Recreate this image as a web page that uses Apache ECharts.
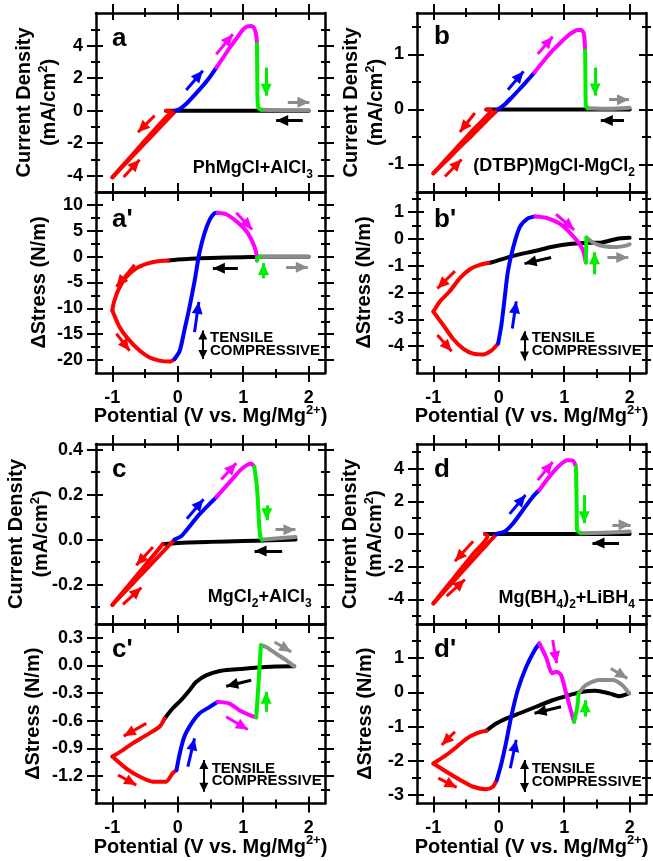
<!DOCTYPE html>
<html><head><meta charset="utf-8">
<script src="https://cdn.jsdelivr.net/npm/echarts@6/dist/echarts.min.js"></script>
<style>html,body{margin:0;padding:0;background:#fff}#c{width:653px;height:861px}</style>
</head><body><div id="c"></div>
<script>
// ---------- shared x axis ----------
const xRange = [-1.25, 2.25];
const xMajor = [-1, 0, 1, 2];
const xMinor = [-0.5, 0.5, 1.5];

// ---------- panel a : current, PhMgCl+AlCl3 ----------
const aYRange = [-5, 6];
const aYMajor = [-4, -2, 0, 2, 4];
const aYMinor = [-3, -1, 1, 3, 5];
const aBlack = [[2.0,0],[1.5,0],[1.0,0],[0.5,0],[0,0],[-0.18,0]];
const aRedDown = [[-0.18,0],[-0.1,-0.02],[-0.3,-0.93],[-0.5,-1.83],[-0.7,-2.74],[-0.9,-3.64],[-1.0,-4.1]];
const aRedUp = [[-1.0,-4.1],[-0.8,-3.25],[-0.6,-2.41],[-0.4,-1.56],[-0.2,-0.72],[-0.03,0]];
const aBlue = [[-0.03,0],[0.05,0.15],[0.15,0.5],[0.3,1.15],[0.45,1.85],[0.59,2.65]];
const aMag = [[0.59,2.65],[0.7,3.3],[0.8,3.9],[0.9,4.45],[0.98,4.9],[1.05,5.15],[1.12,5.2],[1.17,5.05],[1.2,4.6],[1.21,4.1]];
const aGreen = [[1.21,4.1],[1.215,2.0],[1.22,0.6],[1.235,0.15],[1.28,0.05]];
const aGray = [[1.28,0.05],[1.6,0.03],[2.0,0.03]];
const aArrows = {red:[[-0.354,-0.306,-0.609,-1.327],[-0.827,-4.08,-0.583,-3.02]], blue:[[0.13,1.27,0.383,2.45]], mag:[[0.588,3.47,0.841,4.69]], green:[[1.351,2.65,1.351,0.92]], gray:[[1.681,0.51,2.012,0.51]], black:[[1.91,-0.61,1.504,-0.61]]};

// ---------- panel a' : stress ----------
const apYRange = [-22.5, 12.5];
const apYMajor = [-20, -15, -10, -5, 0, 5, 10];
const apYMinor = [-17.5, -12.5, -7.5, -2.5, 2.5, 7.5];
const apBlack = [[2.0,0],[1.5,0],[1.2,-0.05],[1.0,-0.1],[0.5,-0.25],[0.2,-0.4],[0,-0.55],[-0.15,-0.75]];
const apRedDown = [[-0.15,-0.75],[-0.33,-0.93],[-0.48,-1.39],[-0.63,-2.23],[-0.79,-3.99],[-0.91,-6.46],[-0.98,-9.0],[-1.0,-10.4]];
const apRedUp = [[-1.0,-10.4],[-0.89,-13.6],[-0.74,-16.2],[-0.58,-18.2],[-0.43,-19.5],[-0.28,-20.1],[-0.13,-20.3],[-0.05,-19.8]];
const apBlue = [[-0.05,-19.8],[0.03,-18.2],[0.1,-14.3],[0.18,-9.7],[0.26,-4.5],[0.33,0.7],[0.41,4.6],[0.49,7.2],[0.56,8.4],[0.61,8.5]];
const apMag = [[0.61,8.5],[0.74,8.2],[0.89,6.9],[1.05,4.9],[1.15,2.6],[1.2,0.7],[1.21,-0.75]];
const apGreen = [[1.21,-0.75],[1.22,-0.2],[1.26,0]];
const apGray = [[1.26,0],[1.6,0],[2.0,0]];
const apArrows = {red:[[-0.66,-1.58,-0.939,-5.82],[-0.939,-14.9,-0.736,-18.2]], blue:[[0.256,-14.6,0.322,-8.75]], mag:[[0.893,8.5,1.137,5.25]], green:[[1.31,-4.2,1.31,-1.25]], black:[[0.918,-2.23,0.536,-2.23]], gray:[[1.656,-2.03,1.987,-2.03]]};
const apDouble = [0.383,-14.3,0.383,-19.8];

// ---------- panel b : current, (DTBP)MgCl-MgCl2 ----------
const bYRange = [-1.5, 1.75];
const bYMajor = [-1, 0, 1];
const bYMinor = [-0.5, 0.5, 1.5];
const bBlack = [[2.0,0],[1.0,0],[0,0],[-0.19,0]];
const bRedDown = [[-0.19,0],[-0.12,-0.01],[-0.4,-0.38],[-0.6,-0.64],[-0.8,-0.9],[-1.0,-1.16]];
const bRedUp = [[-1.0,-1.16],[-0.8,-0.93],[-0.6,-0.69],[-0.4,-0.46],[-0.2,-0.22],[-0.01,0]];
const bBlue = [[-0.01,0],[0.1,0.1],[0.2,0.22],[0.32,0.37],[0.45,0.54],[0.545,0.67]];
const bMag = [[0.545,0.67],[0.7,0.9],[0.82,1.065],[0.95,1.22],[1.06,1.34],[1.13,1.4],[1.2,1.44],[1.26,1.44],[1.3,1.38],[1.32,1.07]];
const bGreen = [[1.32,1.07],[1.325,0.5],[1.33,0.08],[1.36,0.02]];
const bGray = [[1.36,0.02],[1.7,0.01],[2.0,0.03]];
const bArrows = {red:[[-0.366,-0.066,-0.594,-0.41],[-0.822,-1.22,-0.569,-0.91]], blue:[[0.14,0.355,0.378,0.69]], mag:[[0.596,1.005,0.824,1.32]], green:[[1.473,0.76,1.473,0.25]], gray:[[1.686,0.175,1.99,0.175]], black:[[1.913,-0.2,1.559,-0.2]]};

// ---------- panel b' : stress ----------
const bpYRange = [-5, 1.75];
const bpYMajor = [-4, -3, -2, -1, 0, 1];
const bpYMinor = [-4.5, -3.5, -2.5, -1.5, -0.5, 0.5, 1.5];
const bpBlack = [[2.0,0.04],[1.8,0.0],[1.58,-0.13],[1.3,-0.15],[1.08,-0.19],[0.8,-0.3],[0.57,-0.44],[0.22,-0.63],[-0.09,-0.86],[-0.16,-0.9]];
const bpRedDown = [[-0.16,-0.9],[-0.29,-0.97],[-0.44,-1.13],[-0.59,-1.45],[-0.75,-1.95],[-0.9,-2.33],[-1.0,-2.71]];
const bpRedUp = [[-1.0,-2.71],[-0.85,-3.21],[-0.7,-3.72],[-0.54,-4.1],[-0.39,-4.28],[-0.24,-4.31],[-0.11,-4.16],[-0.01,-3.9]];
const bpBlue = [[-0.01,-3.9],[0.04,-3.21],[0.09,-2.2],[0.14,-1.2],[0.22,-0.32],[0.32,0.44],[0.44,0.76],[0.56,0.84]];
const bpMag = [[0.56,0.84],[0.72,0.79],[0.93,0.57],[1.13,0.12],[1.28,-0.38],[1.33,-0.88]];
const bpGreen = [[1.33,-0.88],[1.335,-0.4],[1.34,0.05]];
const bpGray = [[1.34,0.05],[1.45,-0.15],[1.6,-0.27],[1.8,-0.3],[1.95,-0.25],[2.0,-0.2]];
const bpArrows = {mag:[[0.875,0.92,1.153,0.34]], red:[[-0.67,-1.2,-0.939,-1.85],[-0.939,-3.58,-0.72,-4.19]], blue:[[0.207,-3.34,0.267,-2.33]], black:[[0.799,-0.69,0.394,-0.92]], green:[[1.463,-1.32,1.463,-0.5]], gray:[[1.66,-0.69,1.98,-0.69]]};
const bpDouble = [0.393,-3.44,0.393,-4.53];

// ---------- panel c : current, MgCl2+AlCl3 ----------
const cYRange = [-0.375, 0.425];
const cYMajor = [-0.2, 0, 0.2, 0.4];
const cYMinor = [-0.3, -0.1, 0.1, 0.3];
const cBlack = [[1.8,0.0],[1.4,-0.003],[1.0,-0.006],[0.5,-0.01],[0,-0.015],[-0.23,-0.02]];
const cRedDown = [[-0.23,-0.02],[-0.4,-0.08],[-0.6,-0.15],[-0.8,-0.22],[-1.0,-0.29]];
const cRedUp = [[-1.0,-0.29],[-0.8,-0.229],[-0.6,-0.168],[-0.4,-0.107],[-0.2,-0.046],[-0.05,0.0]];
const cBlue = [[-0.05,0.0],[0.05,0.015],[0.13,0.041],[0.33,0.112],[0.59,0.189]];
const cMag = [[0.59,0.189],[0.84,0.271],[0.96,0.31],[1.05,0.33],[1.12,0.338],[1.17,0.323]];
const cGreen = [[1.17,0.323],[1.21,0.234],[1.24,0.086],[1.26,0.012],[1.29,0.0]];
const cGray = [[1.29,0.0],[1.5,0.005],[1.8,0.012]];
const cArrows = {red:[[-0.38,-0.033,-0.634,-0.114],[-0.838,-0.288,-0.557,-0.213]], blue:[[0.139,0.093,0.394,0.179]], mag:[[0.664,0.267,0.893,0.34]], green:[[1.36,0.152,1.36,0.086]], gray:[[1.493,0.044,1.798,0.044]], black:[[1.595,-0.05,1.173,-0.05]]};

// ---------- panel c' : stress ----------
const cpYRange = [-1.5, 0.45];
const cpYMajor = [-1.2, -0.9, -0.6, -0.3, 0, 0.3];
const cpYMinor = [-1.35, -1.05, -0.75, -0.45, -0.15, 0.15];
const cpBlack = [[1.78,-0.01],[1.35,-0.016],[0.84,-0.045],[0.64,-0.06],[0.44,-0.106],[0.28,-0.179],[0.18,-0.269],[0.05,-0.377],[-0.08,-0.468],[-0.2,-0.576]];
const cpRedDown = [[-0.2,-0.576],[-0.28,-0.667],[-0.48,-0.757],[-0.69,-0.847],[-0.84,-0.92],[-1.0,-0.99]];
const cpRedUp = [[-1.0,-0.99],[-0.79,-1.118],[-0.58,-1.209],[-0.38,-1.263],[-0.18,-1.263],[-0.08,-1.172],[-0.02,-1.137]];
const cpBlue = [[-0.02,-1.137],[0.03,-0.956],[0.1,-0.775],[0.21,-0.63],[0.33,-0.522],[0.49,-0.45],[0.61,-0.396]];
const cpMag = [[0.61,-0.396],[0.79,-0.414],[0.94,-0.486],[1.1,-0.54],[1.2,-0.565]];
const cpGreen = [[1.2,-0.565],[1.24,-0.125],[1.27,0.219]];
const cpGray = [[1.27,0.219],[1.35,0.2],[1.5,0.129],[1.66,0.056],[1.78,-0.01]];
const cpArrows = {gray:[[1.478,0.255,1.733,0.147]], black:[[1.122,-0.161,0.74,-0.226]], green:[[1.351,-0.504,1.351,-0.287]], mag:[[0.74,-0.558,1.07,-0.696]], red:[[-0.481,-0.63,-0.827,-0.768],[-0.914,-1.19,-0.634,-1.3]], blue:[[0.154,-1.1,0.256,-0.793]]};
const cpDouble = [0.399,-1.028,0.399,-1.372];

// ---------- panel d : current, Mg(BH4)2+LiBH4 ----------
const dYRange = [-5.5, 5.5];
const dYMajor = [-4, -2, 0, 2, 4];
const dYMinor = [-5, -3, -1, 1, 3, 5];
const dBlack = [[2.0,0],[1.0,0],[0.6,0],[0,0],[-0.21,0]];
const dRedDown = [[-0.21,0],[-0.17,-0.1],[-0.4,-1.25],[-0.6,-2.25],[-0.8,-3.24],[-1.0,-4.24]];
const dRedUp = [[-1.0,-4.24],[-0.8,-3.36],[-0.6,-2.48],[-0.4,-1.6],[-0.2,-0.72],[-0.04,-0.02]];
const dBlue = [[-0.04,0],[0.09,0.15],[0.22,0.66],[0.37,1.47],[0.52,2.28],[0.62,2.69]];
const dMag = [[0.62,2.69],[0.77,3.49],[0.93,4.2],[1.05,4.51],[1.12,4.5],[1.15,4.4],[1.18,4.1]];
const dGreen = [[1.18,4.1],[1.19,1.88],[1.195,0.26],[1.25,0.05]];
const dGray = [[1.25,0.05],[1.6,0.08],[2.0,0.15]];
const dArrows = {red:[[-0.392,-0.45,-0.67,-1.67],[-0.797,-3.8,-0.518,-2.78]], blue:[[0.166,1.23,0.409,2.38]], mag:[[0.596,3.29,0.824,4.4]], green:[[1.305,2.38,1.305,0.66]], gray:[[1.736,0.56,2.015,0.56]], black:[[1.837,-0.55,1.432,-0.55]]};

// ---------- panel d' : stress ----------
const dpYRange = [-3.25, 2];
const dpYMajor = [-3, -2, -1, 0, 1];
const dpYMinor = [-2.5, -1.5, -0.5, 0.5, 1.5];
const dpBlack = [[1.99,-0.03],[1.84,-0.11],[1.69,-0.03],[1.48,0.05],[1.28,0.02],[1.08,-0.08],[0.82,-0.23],[0.57,-0.42],[0.32,-0.61],[0.12,-0.76],[-0.04,-0.91],[-0.19,-1.12]];
const dpRedDown = [[-0.19,-1.12],[-0.34,-1.2],[-0.49,-1.35],[-0.64,-1.59],[-0.8,-1.83],[-1.0,-2.08]];
const dpRedUp = [[-1.0,-2.08],[-0.8,-2.32],[-0.59,-2.56],[-0.39,-2.76],[-0.19,-2.83],[-0.09,-2.76],[-0.03,-2.56]];
const dpBlue = [[-0.03,-2.56],[0.04,-2.08],[0.12,-1.39],[0.19,-0.71],[0.29,0.07],[0.42,0.75],[0.55,1.24],[0.62,1.43]];
const dpMag = [[0.62,1.43],[0.72,1.04],[0.82,0.56],[0.88,0.6],[0.95,0.51],[1.03,-0.03],[1.1,-0.52],[1.15,-0.86]];
const dpGreen = [[1.15,-0.86],[1.2,-0.42],[1.22,-0.03]];
const dpGray = [[1.22,-0.03],[1.33,0.21],[1.53,0.36],[1.74,0.36],[1.89,0.21],[1.99,-0.03]];
const dpArrows = {mag:[[0.824,1.53,0.884,0.85]], gray:[[1.711,0.7,1.964,0.41]], black:[[0.951,-0.42,0.546,-0.61]], green:[[1.32,-0.71,1.32,-0.23]], red:[[-0.67,-1.15,-0.872,-1.54],[-0.924,-2.51,-0.644,-2.78]], blue:[[0.176,-2.22,0.267,-1.39]]};
const dpDouble = [0.393,-1.98,0.393,-2.91];

// ---------- texts ----------
const xTitle = '{t|Potential (V vs. Mg/Mg}{s|2+}{t|)}';
const curTitle = '{t|Current Density}\n{t|(mA/cm}{s|2}{t|)}';
const stressTitle = '{t|ΔStress (N/m)}';
const compA = '{t|PhMgCl+AlCl}{s|3}';
const compB = '{t|(DTBP)MgCl-MgCl}{s|2}';
const compC = '{t|MgCl}{s|2}{t|+AlCl}{s|3}';
const compD = '{t|Mg(BH}{s|4}{t|)}{s|2}{t|+LiBH}{s|4}';
const tensileText = 'TENSILE\nCOMPRESSIVE';

// ---------- layout / styling ----------
const FF = '"Liberation Sans", Arial, Helvetica, sans-serif';
const COL = {black:'#000000', gray:'#8c8c8c', red:'#ff0000', blue:'#0000ff', mag:'#ff00ff', green:'#00ee00'};

const panels = [
  {grid:[96,13,229,179],   yr:aYRange,  ymaj:aYMajor,  ymin:aYMinor,  xlab:false, yname:curTitle,    ygap:34, dec:0, letter:'a',  lp:[112,39],
   segs:[['black',aBlack],['gray',aGray],['red',aRedDown],['red',aRedUp],['blue',aBlue],['mag',aMag],['green',aGreen]], arrows:aArrows, comp:compA, cp:[313,168.5]},
  {grid:[96,192,229,181],  yr:apYRange, ymaj:apYMajor, ymin:apYMinor, xlab:true,  yname:stressTitle, ygap:44, dec:0, letter:"a'", lp:[112,219.5],
   segs:[['black',apBlack],['gray',apGray],['red',apRedDown],['red',apRedUp],['blue',apBlue],['mag',apMag],['green',apGreen]], arrows:apArrows, dbl:apDouble, tp:[210,344.7]},
  {grid:[417,13,229,179],  yr:bYRange,  ymaj:bYMajor,  ymin:bYMinor,  xlab:false, yname:curTitle,    ygap:28, dec:0, letter:'b',  lp:[434,37],
   segs:[['black',bBlack],['gray',bGray],['red',bRedDown],['red',bRedUp],['blue',bBlue],['mag',bMag],['green',bGreen]], arrows:bArrows, comp:compB, cp:[635,166.5]},
  {grid:[417,192,229,181], yr:bpYRange, ymaj:bpYMajor, ymin:bpYMinor, xlab:true,  yname:stressTitle, ygap:40, dec:0, letter:"b'", lp:[434,219.5],
   segs:[['black',bpBlack],['gray',bpGray],['red',bpRedDown],['red',bpRedUp],['blue',bpBlue],['mag',bpMag],['green',bpGreen]], arrows:bpArrows, dbl:bpDouble, tp:[531.7,344.2]},
  {grid:[96,444,229,180],  yr:cYRange,  ymaj:cYMajor,  ymin:cYMinor,  xlab:false, yname:curTitle,    ygap:42, dec:1, letter:'c',  lp:[112,470],
   segs:[['black',cBlack],['gray',cGray],['red',cRedDown],['red',cRedUp],['blue',cBlue],['mag',cMag],['green',cGreen]], arrows:cArrows, comp:compC, cp:[311.7,597.5]},
  {grid:[96,624,229,179.5],yr:cpYRange, ymaj:cpYMajor, ymin:cpYMinor, xlab:true,  yname:stressTitle, ygap:50, dec:1, letter:"c'", lp:[112,650],
   segs:[['black',cpBlack],['gray',cpGray],['red',cpRedDown],['red',cpRedUp],['blue',cpBlue],['mag',cpMag],['green',cpGreen]], arrows:cpArrows, dbl:cpDouble, tp:[211.7,775]},
  {grid:[417,444,229,180], yr:dYRange,  ymaj:dYMajor,  ymin:dYMinor,  xlab:false, yname:curTitle,    ygap:29, dec:0, letter:'d',  lp:[434,470],
   segs:[['black',dBlack],['gray',dGray],['red',dRedDown],['red',dRedUp],['blue',dBlue],['mag',dMag],['green',dGreen]], arrows:dArrows, comp:compD, cp:[635,598.5]},
  {grid:[417,624,229,179.5],yr:dpYRange,ymaj:dpYMajor, ymin:dpYMinor, xlab:true,  yname:stressTitle, ygap:39, dec:0, letter:"d'", lp:[434,650],
   segs:[['black',dpBlack],['gray',dpGray],['red',dpRedDown],['red',dpRedUp],['blue',dpBlue],['mag',dpMag],['green',dpGreen]], arrows:dpArrows, dbl:dpDouble, tp:[531.7,775.3]}
];

const nameStyle = {
  fontFamily:FF, fontWeight:'bold', fontSize:20, color:'#000', lineHeight:25,
  rich:{ t:{fontFamily:FF, fontWeight:'bold', fontSize:20, color:'#000', lineHeight:25},
         s:{fontFamily:FF, fontWeight:'bold', fontSize:13, color:'#000', verticalAlign:'top', height:12, lineHeight:25} }
};
const labelBase = {fontFamily:FF, fontWeight:'bold', fontSize:18, color:'#000'};

const grids = [], xAxes = [], yAxes = [], series = [], graphics = [];

function addAxisSet(list, gi, rng, major, minor, sides, main) {
  const mainIdx = list.length;
  sides.forEach(function (pos, si) {
    [[major, 9, 7], [minor, 5, 4]].forEach(function (spec, k) {
      [false, true].forEach(function (inside) {
        const ax = {
          type:'value', gridIndex:gi, position:pos, min:rng[0], max:rng[1], silent:true,
          axisLine:{show: k === 0 && !inside, onZero:false, lineStyle:{color:'#000', width:2.5}},
          axisTick:{show:true, inside:inside, length: inside ? spec[2] : spec[1], customValues: spec[0], lineStyle:{color:'#000', width:2}},
          axisLabel:{show:false},
          splitLine:{show:false}
        };
        if (si === 0 && k === 0 && !inside) Object.assign(ax, main);
        list.push(ax);
      });
    });
  });
  return mainIdx;
}

panels.forEach(function (p, gi) {
  grids.push({left:p.grid[0], top:p.grid[1], width:p.grid[2], height:p.grid[3], outerBoundsMode:'none', containLabel:false});
  const xi = addAxisSet(xAxes, gi, xRange, xMajor, xMinor, ['bottom','top'], {
    axisLabel:{show:p.xlab, customValues:xMajor, margin:16, formatter:function(v){return String(v);}, ...labelBase},
    name: p.xlab ? xTitle : '', nameLocation:'middle', nameGap:31, nameMoveOverlap:false, nameTextStyle:nameStyle
  });
  const yi = addAxisSet(yAxes, gi, p.yr, p.ymaj, p.ymin, ['left','right'], {
    axisLabel:{show:true, customValues:p.ymaj, margin:13, formatter:(function(d){return function(v){return d ? v.toFixed(d) : String(Math.round(v));};})(p.dec), ...labelBase},
    name:p.yname, nameLocation:'middle', nameRotate:90, nameGap:p.ygap, nameMoveOverlap:false, nameTextStyle:nameStyle
  });
  p.segs.forEach(function (sg, si) {
    const s = {
      type:'line', xAxisIndex:xi, yAxisIndex:yi, data:sg[1], showSymbol:false, symbol:'none',
      smooth:0.25, animation:false, silent:true, z:2 + si,
      lineStyle:{color:COL[sg[0]], width:4, cap:'round', join:'round'}, itemStyle:{color:COL[sg[0]]}
    };
    if (si === 0) {
      const items = [];
      Object.keys(p.arrows).forEach(function (c) {
        p.arrows[c].forEach(function (a) {
          items.push([{coord:[a[0],a[1]], lineStyle:{color:COL[c], width:3, type:'solid'}, itemStyle:{color:COL[c]}}, {coord:[a[2],a[3]]}]);
        });
      });
      s.markLine = {silent:true, animation:false, symbol:['none','triangle'], symbolSize:[11,12], symbolOffset:[[0,0],[0,6]],
        label:{show:false}, emphasis:{disabled:true}, lineStyle:{type:'solid', width:3}, data:items};
    }
    if (si === 1 && p.dbl) {
      const d = p.dbl;
      s.markLine = {silent:true, animation:false, symbol:['triangle','triangle'], symbolSize:[9,9], symbolOffset:[[0,4.5],[0,4.5]],
        label:{show:false}, emphasis:{disabled:true},
        data:[[{coord:[d[0],d[1]], lineStyle:{color:'#000', width:2, type:'solid'}, itemStyle:{color:'#000'}}, {coord:[d[2],d[3]]}]]};
    }
    series.push(s);
  });
  graphics.push({type:'text', x:p.lp[0], y:p.lp[1], z:100, silent:true,
    style:{text:p.letter, fontFamily:FF, fontWeight:'bold', fontSize:26, fill:'#000', align:'left', verticalAlign:'middle'}});
  if (p.comp) {
    graphics.push({type:'text', x:p.cp[0], y:p.cp[1], z:100, silent:true,
      style:{text:p.comp, align:'right', verticalAlign:'middle', fill:'#000',
        rich:{t:{fontFamily:FF, fontWeight:'bold', fontSize:18, fill:'#000', lineHeight:20},
              s:{fontFamily:FF, fontWeight:'bold', fontSize:12, fill:'#000', verticalAlign:'bottom', height:7, lineHeight:20}}}});
  }
  if (p.tp) {
    graphics.push({type:'text', x:p.tp[0], y:p.tp[1], z:100, silent:true,
      style:{text:tensileText, fontFamily:FF, fontWeight:'bold', fontSize:15, lineHeight:12.7, fill:'#000', align:'left', verticalAlign:'middle'}});
  }
});

const chart = echarts.init(document.getElementById('c'), null, {renderer:'canvas'});
chart.setOption({
  animation:false, backgroundColor:'#ffffff',
  grid:grids, xAxis:xAxes, yAxis:yAxes, series:series, graphic:graphics
});
</script></body></html>
